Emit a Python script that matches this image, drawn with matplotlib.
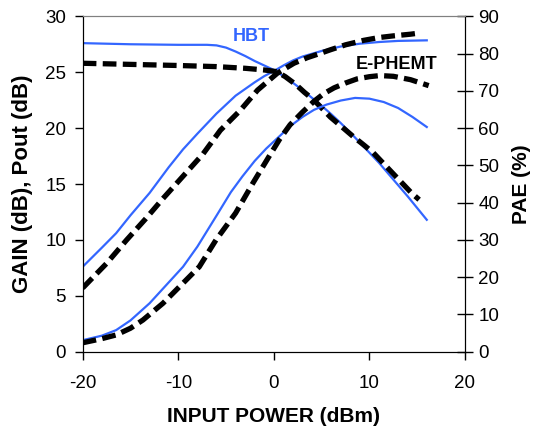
import matplotlib.pyplot as plt

plt.rcParams['font.family'] = ['Liberation Sans', 'DejaVu Sans']
plt.rcParams['axes.unicode_minus'] = False

# HBT (blue, solid)
hbt_gain_x = [-20, -15, -10, -7, -6, -5, -4, -3, -2, -1, 0, 1, 2, 3, 4, 5, 6, 7, 8, 9, 10, 11, 12, 13, 14, 15, 16]
hbt_gain_y = [27.6, 27.5, 27.45, 27.45, 27.4, 27.2, 26.85, 26.45, 26.0, 25.6, 25.2, 24.65, 24.05, 23.4, 22.7, 22.0, 21.25, 20.45, 19.6, 18.7, 17.8, 16.9, 15.9, 14.9, 13.9, 12.85, 11.8]
hbt_pout_x = [-20, -18, -16.5, -15, -13, -11, -9.5, -8, -7, -6, -5, -4, -3, -2, -1, 0, 1, 2, 3, 5, 7, 9, 11, 13, 16]
hbt_pout_y = [7.6, 9.3, 10.6, 12.2, 14.2, 16.5, 18.1, 19.5, 20.4, 21.3, 22.1, 22.9, 23.5, 24.1, 24.65, 25.1, 25.6, 26.05, 26.4, 26.9, 27.3, 27.55, 27.7, 27.8, 27.85]
hbt_pae_x = [-20, -18, -16.5, -15, -13, -11, -9.5, -8, -6, -4.5, -3.3, -2, -0.8, 0.5, 1.7, 3, 4.2, 5.5, 7, 8.5, 10, 11.5, 13, 14.5, 16]
hbt_pae_y = [3.1, 4.3, 5.8, 8.4, 13.0, 18.6, 22.8, 28.2, 36.5, 42.8, 47.0, 51.2, 54.5, 57.6, 60.5, 63.0, 64.9, 66.3, 67.4, 68.1, 67.9, 67.0, 65.4, 63.0, 60.3]

# E-PHEMT (black, dashed)
ph_gain_x = [-20, -15, -10, -6, -3, -1, 0.3, 1.2, 2.3, 3.2, 4.2, 5, 5.9, 7, 8.3, 9.4, 10.4, 11.4, 12.4, 13.4, 14.4, 15.2]
ph_gain_y = [25.8, 25.7, 25.6, 25.5, 25.35, 25.2, 25.05, 24.6, 23.9, 23.2, 22.5, 21.8, 21.0, 20.2, 19.25, 18.5, 17.8, 16.9, 16.0, 15.1, 14.2, 13.6]
ph_pout_x = [-20, -17.5, -15.4, -13.4, -11.6, -9.5, -7.4, -5.6, -3.5, -1.7, 0.35, 2.1, 3.5, 4.9, 5.9, 7.5, 9.4, 11, 12.5, 14.3, 15.2]
ph_pout_y = [5.7, 7.9, 10.0, 11.9, 13.7, 15.7, 17.7, 19.8, 21.6, 23.4, 24.9, 25.8, 26.3, 26.7, 27.0, 27.45, 27.85, 28.1, 28.25, 28.4, 28.5]
ph_pae_x = [-20, -18, -16.5, -15, -13.7, -11.6, -9.5, -7.8, -6.05, -4.0, -2.2, -0.5, 0.6, 1.7, 3, 4.2, 5.2, 6.3, 7.5, 8.7, 10, 11.1, 12.5, 14.3, 16.2]
ph_pae_y = [2.4, 3.5, 4.5, 6.3, 8.5, 13.0, 18.4, 22.8, 30.0, 37.2, 45.2, 52.4, 57.0, 60.9, 64.3, 67.2, 69.2, 70.8, 72.1, 73.2, 73.8, 74.1, 73.9, 73.0, 71.4]

blue = '#3366ff'

fig = plt.figure(figsize=(5.39, 4.36), dpi=100)
ax = fig.add_axes([0.1534, 0.1933, 0.7093, 0.7693])
ax2 = ax.twinx()

ax.plot(hbt_gain_x, hbt_gain_y, color=blue, lw=1.6)
ax.plot(hbt_pout_x, hbt_pout_y, color=blue, lw=1.6)
ax2.plot(hbt_pae_x, hbt_pae_y, color=blue, lw=1.6)

dash = dict(color='black', lw=3.8, linestyle=(0, (2.6, 1.2)))
ax.plot(ph_gain_x, ph_gain_y, **dash)
ax.plot(ph_pout_x, ph_pout_y, **dash)
ax2.plot(ph_pae_x, ph_pae_y, **dash)

ax.set_xlim(-20, 20)
ax.set_ylim(0, 30)
ax2.set_ylim(0, 90)
ax.set_xticks([-20, -10, 0, 10, 20])
ax.set_yticks(range(0, 31, 5))
ax2.set_yticks(range(0, 91, 10))

ax.tick_params(axis='both', labelsize=13.5, direction='out', length=5.5, width=1, colors='black')
ax.tick_params(axis='x', pad=11)
ax.tick_params(axis='y', pad=6.5)
ax2.tick_params(axis='y', labelsize=13.5, direction='inout', length=11, width=1, pad=4)

ax.spines['top'].set_color('#808080')
ax2.spines['top'].set_color('#808080')

ax.set_xlabel('INPUT POWER (dBm)', fontsize=15, fontweight='bold', labelpad=11)
ax.set_ylabel('GAIN (dB), Pout (dB)', fontsize=16, fontweight='bold', labelpad=9)
ax2.set_ylabel('PAE (%)', fontsize=15, fontweight='bold', labelpad=9)

ax.text(-2.4, 28.2, 'HBT', color=blue, fontsize=13, fontweight='bold', ha='center', va='center')
ax.text(12.8, 25.7, 'E-PHEMT', color='black', fontsize=13, fontweight='bold', ha='center', va='center')

fig.savefig('out.png', dpi=100)
